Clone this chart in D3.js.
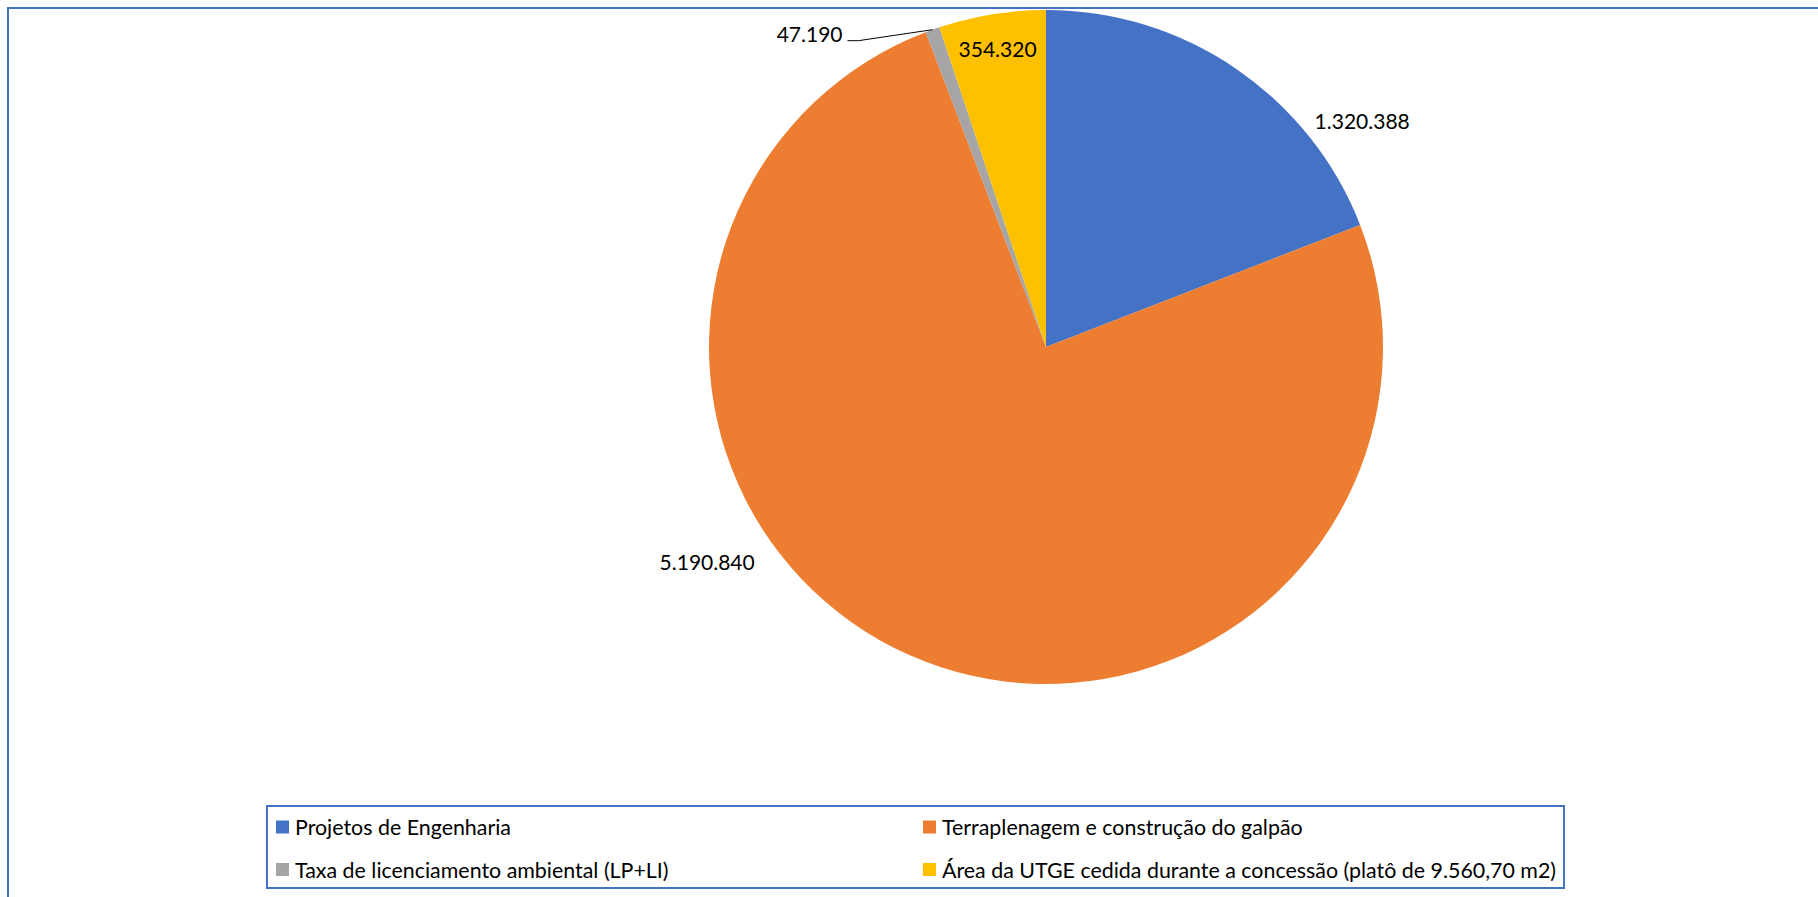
<!DOCTYPE html>
<html>
<head>
<meta charset="utf-8">
<script src="https://cdn.jsdelivr.net/npm/d3@7"></script>
<style>
  html, body { margin: 0; padding: 0; background: #fff; overflow: hidden; }
  svg { display: block; }
  text { font-family: Lato, "Open Sans", sans-serif; fill: #000; }
</style>
</head>
<body>
<svg id="chart" width="1818" height="897"></svg>
<script>
// ---- data ----
const categories = [
  "Projetos de Engenharia",
  "Terraplenagem e construção do galpão",
  "Taxa de licenciamento ambiental (LP+LI)",
  "Área da UTGE cedida durante a concessão (platô de 9.560,70 m2)"
];
const values = [1320388, 5190840, 47190, 354320];
const valueLabels = ["1.320.388", "5.190.840", "47.190", "354.320"];
const colors = ["#4472C4", "#ED7D31", "#A5A5A5", "#FFC000"];

// ---- layout ----
const W = 1818, H = 897;
const cx = 1046, cy = 347, R = 337;
const fontSize = 21;
const legendFontSize = 21.4;

const svg = d3.select("#chart");

// outer chart frame (extends beyond viewport on right/bottom)
svg.append("rect")
  .attr("x", 8).attr("y", 8)
  .attr("width", W + 20).attr("height", H + 20)
  .attr("fill", "none").attr("stroke", "#4472C4").attr("stroke-width", 2);

const pie = d3.pie().sort(null).value(d => d)(values);
const arc = d3.arc().innerRadius(0).outerRadius(R);

const g = svg.append("g").attr("transform", `translate(${cx},${cy})`);
g.selectAll("path.slice").data(pie).enter().append("path")
  .attr("class", "slice")
  .attr("d", arc)
  .attr("fill", (d, i) => colors[i]);

// label placement rules (angle in radians clockwise from 12 o'clock, radius)
function polar(angle, r) { return [r * Math.sin(angle), -r * Math.cos(angle)]; }
const labelRules = [
  { mode: "outside", angleShift: 0.349, r: 389, anchor: "middle" },
  { mode: "outside", angleShift: 0.589, r: 401, anchor: "middle" },
  { mode: "leader" },
  { mode: "inside", angleShift: 0, r: 302, anchor: "middle" }
];

pie.forEach((d, i) => {
  const rule = labelRules[i];
  const mid = (d.startAngle + d.endAngle) / 2;
  if (rule.mode === "leader") {
    const p0 = polar(mid, R);
    const p1 = [p0[0] - 74, p0[1] + 11];
    const p2 = [p1[0] - 11, p1[1]];
    g.append("path")
      .attr("d", d3.line()([p0, p1, p2]))
      .attr("fill", "none").attr("stroke", "#000").attr("stroke-width", 1);
    g.append("text")
      .attr("x", p2[0] - 5).attr("y", p2[1] - 7)
      .attr("text-anchor", "end").attr("dominant-baseline", "central")
      .attr("font-size", fontSize)
      .text(valueLabels[i]);
  } else {
    const p = polar(mid + rule.angleShift, rule.r);
    g.append("text")
      .attr("x", p[0]).attr("y", p[1])
      .attr("text-anchor", rule.anchor).attr("dominant-baseline", "central")
      .attr("font-size", fontSize)
      .text(valueLabels[i]);
  }
});

// legend
const legX = 267, legY = 806, legW = 1297, legH = 82;
svg.append("rect")
  .attr("x", legX).attr("y", legY).attr("width", legW).attr("height", legH)
  .attr("fill", "#fff").attr("stroke", "#4472C4").attr("stroke-width", 2);

const colX = [276, 923];
const rowY = [827, 869.5];
const leg = svg.append("g");
categories.forEach((c, i) => {
  const col = i % 2, row = Math.floor(i / 2);
  leg.append("rect")
    .attr("x", colX[col]).attr("y", rowY[row] - 6.5)
    .attr("width", 13).attr("height", 13)
    .attr("fill", colors[i]);
  leg.append("text")
    .attr("x", colX[col] + 19).attr("y", rowY[row])
    .attr("dominant-baseline", "central")
    .attr("font-size", legendFontSize)
    .text(c);
});
</script>
</body>
</html>
